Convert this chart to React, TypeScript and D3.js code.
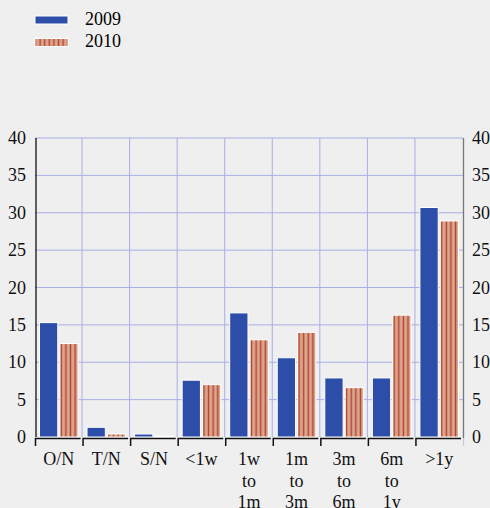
import React from 'react';
import * as d3 from 'd3';

const categories = ['O/N', 'T/N', 'S/N', '<1w', '1w\nto\n1m', '1m\nto\n3m', '3m\nto\n6m', '6m\nto\n1y', '>1y'];
const series = ['2009', '2010'];
const values2009 = [15.3, 1.3, 0.4, 7.6, 16.6, 10.6, 7.9, 7.9, 30.7];
const values2010 = [12.5, 0.4, 0.1, 7.0, 13.0, 14.0, 6.6, 16.3, 28.9];
const yTicks = [0, 5, 10, 15, 20, 25, 30, 35, 40];

const W = 490;
const H = 508;
const margin = { top: 138, right: 27, bottom: 71, left: 35 };
const blue = '#2c4ea8';
const salmon = '#d9a68e';
const stripe = '#b8402e';
const grid = '#a9aee6';
const font = "'Liberation Serif', 'DejaVu Serif', serif";

export default function App() {
  const innerW = W - margin.left - margin.right;
  const innerH = H - margin.top - margin.bottom;

  const x = d3.scaleBand().domain(categories).range([margin.left, margin.left + innerW]).paddingInner(0).paddingOuter(0);
  const x1 = d3.scaleBand().domain(series).range([0, x.bandwidth()]).paddingInner(0.1).paddingOuter(0.22);
  const y = d3.scaleLinear().domain([0, 40]).range([margin.top + innerH, margin.top]);
  const y0 = y(0);
  const bw = x.bandwidth();

  const rows = categories.map((c, i) => ({ c, v: [values2009[i], values2010[i]] }));

  return (
    <svg width={W} height={H} style={{ position: 'absolute', left: 0, top: 0, background: '#efefef', fontFamily: font }}>
      <defs>
        <pattern id="stripes" patternUnits="userSpaceOnUse" width={4.6} height={10} x={1}>
          <rect width={4.6} height={10} fill={salmon} />
          <rect x={1.6} width={1.4} height={10} fill={stripe} />
        </pattern>
      </defs>
      <rect width={W} height={H} fill="#efefef" />

      {/* legend */}
      <rect x={35} y={16} width={33} height={8} fill={blue} stroke="#fff" strokeWidth={1} />
      <text x={85} y={25} fontSize={18} style={{ fontFamily: font }}>{series[0]}</text>
      <rect x={35} y={38.5} width={33} height={8} fill="url(#stripes)" stroke="#fff" strokeWidth={1} />
      <text x={85} y={46.5} fontSize={18} style={{ fontFamily: font }}>{series[1]}</text>

      {/* grid */}
      {yTicks.filter(t => t > 0).map(t => (
        <line key={'h' + t} x1={margin.left} x2={margin.left + innerW} y1={y(t)} y2={y(t)} stroke={grid} strokeWidth={1} />
      ))}
      {categories.slice(1).map(c => (
        <line key={'v' + c} x1={x(c)! - 0.5} x2={x(c)! - 0.5} y1={y(40)} y2={y0} stroke={grid} strokeWidth={1} />
      ))}

      {/* bars */}
      {rows.map(r => (
        <g key={r.c} transform={`translate(${x(r.c)},0)`}>
          {series.map((s, j) => (
            <rect
              key={s}
              x={x1(s)}
              y={y(r.v[j])}
              width={x1.bandwidth()}
              height={y0 - y(r.v[j])}
              fill={j === 0 ? blue : 'url(#stripes)'}
              stroke="#fff"
              strokeWidth={1}
            />
          ))}
        </g>
      ))}

      {/* axes */}
      <line x1={margin.left + 1} x2={margin.left + 1} y1={y(40)} y2={y0} stroke="#111" strokeWidth={1.3} />
      <line x1={margin.left + innerW + 0.5} x2={margin.left + innerW + 0.5} y1={y(40)} y2={y0 + 1} stroke="#777" strokeWidth={1.3} />
      {categories.map(c => (
        <path key={'ax' + c} d={`M${x(c)! + 0.5},${y0 + 9}V${y0 + 1.5}H${x(c)! + bw - 2}`} fill="none" stroke="#111" strokeWidth={1.5} />
      ))}
      <line x1={margin.left + innerW + 0.5} x2={margin.left + innerW + 0.5} y1={y0 + 1} y2={y0 + 9} stroke="#ccc" strokeWidth={1.3} />

      {/* y labels */}
      {yTicks.map(t => (
        <g key={'yl' + t} fontSize={18} fill="#111" style={{ fontFamily: font }}>
          <text x={26} y={y(t) + 6} textAnchor="end">{t}</text>
          <text x={472} y={y(t) + 6} textAnchor="start">{t}</text>
        </g>
      ))}

      {/* x labels */}
      {categories.map(c => (
        <text key={'xl' + c} x={x(c)! + bw / 2} y={465} textAnchor="middle" fontSize={18} fill="#111" style={{ fontFamily: font }}>
          {c.split('\n').map((line, k) => (
            <tspan key={k} x={x(c)! + bw / 2} dy={k === 0 ? 0 : 21.5}>{line}</tspan>
          ))}
        </text>
      ))}
    </svg>
  );
}
